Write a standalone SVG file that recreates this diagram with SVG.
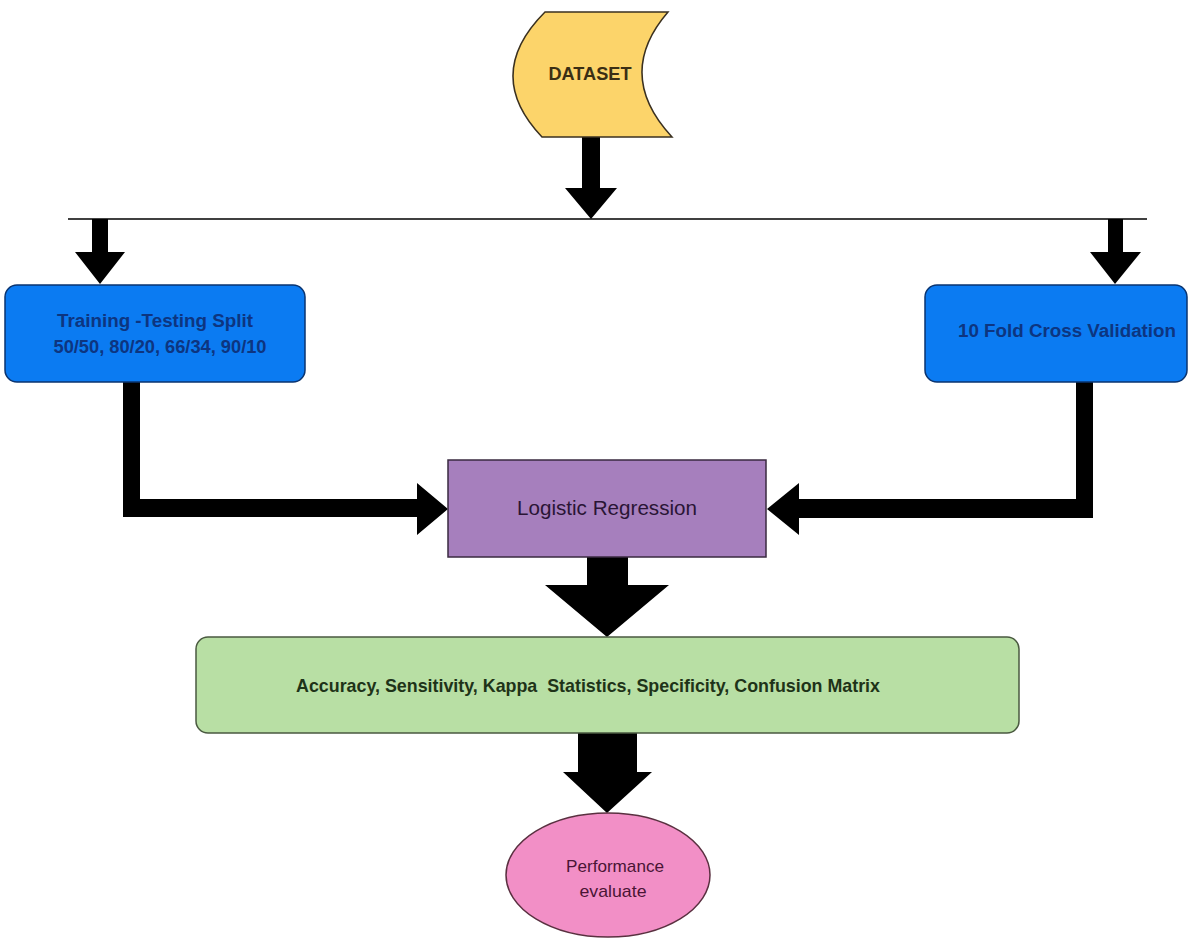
<svg xmlns="http://www.w3.org/2000/svg" width="1190" height="938" viewBox="0 0 1190 938">
<style>
.t{font-family:"Liberation Sans",Arial,sans-serif;text-anchor:middle}
.b{font-weight:bold}
.arrow{fill:#000;stroke:none}
.blue{fill:#0b7bf2;stroke:#0a3470;stroke-width:1.5}
</style>
<rect width="1190" height="938" fill="#fff"/>
<g id="connectors">
<line x1="68" y1="219" x2="1147" y2="219" stroke="#000" stroke-width="1.5"/>
<polygon class="arrow" points="582,137 600,137 600,188 617,188 591,219 565,188 582,188"/>
<polygon class="arrow" points="92,219 108,219 108,252 125,252 100,284 75,252 92,252"/>
<polygon class="arrow" points="1108,219 1123,219 1123,252 1141,252 1115,284 1090,252 1108,252"/>
<polygon class="arrow" points="123,382 140,382 140,499 417,499 417,483 448,509 417,535 417,517 123,517"/>
<polygon class="arrow" points="1076,382 1093,382 1093,518 799,518 799,535 767,509 799,483 799,499 1076,499"/>
<polygon class="arrow" points="587,557 628,557 628,585 669,585 607,637 545,585 587,585"/>
<polygon class="arrow" points="578,733 637,733 637,772 652,772 607,813 563,772 578,772"/>
</g>
<g id="dataset">
<path d="M545,12 L668,12 Q614,74.5 672,137 L542,137 Q482.5,74.5 545,12 Z" fill="#fcd46a" stroke="#3a3020" stroke-width="1.5"/>
<text class="t b" x="590" y="80" font-size="18" fill="#3a2e14" textLength="83" lengthAdjust="spacingAndGlyphs">DATASET</text>
</g>
<g id="split">
<rect class="blue" x="5" y="285" width="300" height="97" rx="12"/>
<text class="t b" x="155" y="327" font-size="18" fill="#0d3580" textLength="196" lengthAdjust="spacingAndGlyphs">Training -Testing Split</text>
<text class="t b" x="160" y="353" font-size="18" fill="#0d3580" textLength="213" lengthAdjust="spacingAndGlyphs">50/50, 80/20, 66/34, 90/10</text>
</g>
<g id="crossval">
<rect class="blue" x="925" y="285" width="262" height="97" rx="12"/>
<text class="t b" x="1067" y="337" font-size="18" fill="#0d3580" textLength="218" lengthAdjust="spacingAndGlyphs">10 Fold Cross Validation</text>
</g>
<g id="logistic">
<rect x="448" y="460" width="318" height="97" fill="#a67fbd" stroke="#3a2a40" stroke-width="1.5"/>
<text class="t" x="607" y="515" font-size="20" fill="#2a1535" textLength="180" lengthAdjust="spacingAndGlyphs">Logistic Regression</text>
</g>
<g id="metrics">
<rect x="196" y="637" width="823" height="96" rx="12" fill="#b8dfa4" stroke="#4a5a40" stroke-width="1.5"/>
<text class="t b" x="588" y="692" font-size="19" fill="#1e3318" textLength="584" lengthAdjust="spacingAndGlyphs" xml:space="preserve">Accuracy, Sensitivity, Kappa  Statistics, Specificity, Confusion Matrix</text>
</g>
<g id="performance">
<ellipse cx="608" cy="875" rx="102" ry="62" fill="#f28fc6" stroke="#5a3040" stroke-width="1.5"/>
<text class="t" x="615" y="872" font-size="17" fill="#4a1535" textLength="98" lengthAdjust="spacingAndGlyphs">Performance</text>
<text class="t" x="613" y="897" font-size="17" fill="#4a1535" textLength="67" lengthAdjust="spacingAndGlyphs">evaluate</text>
</g>
</svg>
